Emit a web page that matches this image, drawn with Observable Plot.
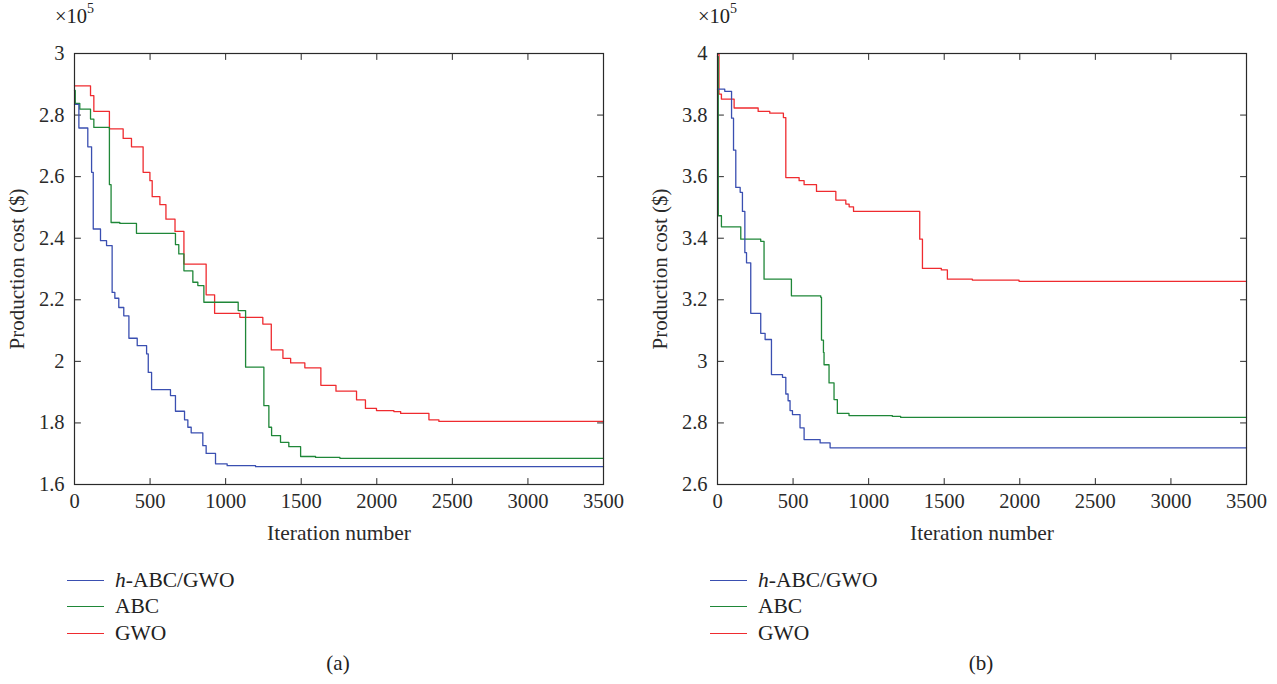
<!DOCTYPE html>
<html>
<head>
<meta charset="utf-8">
<script src="https://cdn.jsdelivr.net/npm/d3@7"></script>
<script src="https://cdn.jsdelivr.net/npm/@observablehq/plot@0.6"></script>
<style>
  body { margin: 0; background: #fff; font-family: "Liberation Serif", "DejaVu Serif", serif; color: #222; }
  #wrap { position: relative; width: 1277px; height: 684px; overflow: hidden; }
  .panel { position: absolute; top: 0; width: 640px; height: 560px; }
  .panel svg { max-width: none !important; }
  .exp { position: absolute; top: 3px; font-size: 20.5px; color: #222; }
  .exp sup { font-size: 14px; position: relative; top: -2px; }
  .legend { position: absolute; top: 567px; font-size: 21.5px; }
  .legend .row { display: flex; align-items: center; height: 26.5px; }
  .legend .sw { width: 37px; height: 0; border-top: 1.4px solid; margin-right: 11px; }
  .cap { position: absolute; top: 651px; font-size: 21px; width: 60px; text-align: center; }
</style>
</head>
<body>
<div id="wrap"></div>
<script>
// ---------- data (cost in units of 1e5 $) ----------
const seriesNames = ["h-ABC/GWO", "ABC", "GWO"];
const seriesColors = ["#3a4fb1", "#1f8738", "#ef2b2f"];
const xTicks = [0, 500, 1000, 1500, 2000, 2500, 3000, 3500];
const yTicksA = [1.6, 1.8, 2, 2.2, 2.4, 2.6, 2.8, 3];
const yTicksB = [2.6, 2.8, 3, 3.2, 3.4, 3.6, 3.8, 4];

// Panel (a)
const a_hybrid_iter = [0, 29, 88, 113, 124, 172, 212, 249, 267, 293, 326, 360, 415, 477, 488, 510, 635, 668, 728, 750, 772, 849, 871, 933, 1010, 1198, 3500];
const a_hybrid_cost = [2.835, 2.758, 2.697, 2.614, 2.430, 2.392, 2.376, 2.224, 2.205, 2.175, 2.148, 2.075, 2.051, 2.024, 1.964, 1.908, 1.889, 1.838, 1.810, 1.786, 1.768, 1.726, 1.701, 1.667, 1.661, 1.658, 1.658];
const a_abc_iter = [0, 5, 35, 106, 128, 231, 242, 300, 410, 668, 690, 724, 783, 816, 856, 1083, 1132, 1253, 1286, 1304, 1363, 1418, 1496, 1595, 1756, 3500];
const a_abc_cost = [2.880, 2.838, 2.819, 2.787, 2.760, 2.574, 2.451, 2.448, 2.416, 2.379, 2.349, 2.294, 2.257, 2.246, 2.192, 2.165, 1.981, 1.856, 1.786, 1.759, 1.737, 1.723, 1.691, 1.688, 1.685, 1.685];
const a_gwo_iter = [0, 106, 128, 231, 322, 377, 454, 499, 514, 565, 605, 665, 724, 871, 927, 1094, 1246, 1302, 1379, 1430, 1524, 1630, 1730, 1866, 1925, 1998, 2113, 2158, 2345, 2411, 3500];
const a_gwo_cost = [2.895, 2.863, 2.812, 2.755, 2.724, 2.697, 2.614, 2.587, 2.535, 2.509, 2.462, 2.422, 2.316, 2.216, 2.156, 2.143, 2.121, 2.037, 2.010, 1.995, 1.979, 1.922, 1.903, 1.875, 1.847, 1.840, 1.837, 1.831, 1.810, 1.805, 1.805];

// Panel (b)
const b_hybrid_iter = [0, 48, 93, 106, 121, 150, 165, 181, 192, 220, 286, 315, 357, 430, 452, 467, 480, 496, 546, 573, 679, 745, 3500];
const b_hybrid_cost = [3.884, 3.877, 3.790, 3.686, 3.565, 3.549, 3.487, 3.353, 3.320, 3.156, 3.091, 3.071, 2.957, 2.948, 2.894, 2.872, 2.840, 2.827, 2.784, 2.746, 2.735, 2.719, 2.719];
const b_abc_iter = [0, 5, 26, 154, 286, 308, 489, 683, 688, 701, 705, 738, 771, 793, 870, 1157, 1212, 3500];
const b_abc_cost = [3.990, 3.473, 3.437, 3.397, 3.390, 3.267, 3.213, 3.208, 3.069, 3.029, 2.989, 2.930, 2.876, 2.831, 2.824, 2.821, 2.818, 2.818];
const b_gwo_iter = [0, 10, 26, 110, 269, 346, 436, 452, 540, 573, 655, 783, 849, 871, 900, 1338, 1356, 1481, 1521, 1686, 1995, 3500];
const b_gwo_cost = [3.998, 3.868, 3.852, 3.823, 3.812, 3.806, 3.792, 3.597, 3.587, 3.574, 3.552, 3.524, 3.511, 3.502, 3.487, 3.397, 3.302, 3.297, 3.267, 3.264, 3.260, 3.260];

// ---------- helpers ----------
function rows(name, iters, costs) {
  return iters.map((it, i) => ({series: name, iter: it, cost: costs[i]}));
}
const tickShape = {draw(context, l) { context.moveTo(0, 0); context.lineTo(0, -l); }};
const ink = "#2a2a2a";

function panel(data, yTicks) {
  const y0 = yTicks[0], y1 = yTicks[yTicks.length - 1];
  const x0 = xTicks[0], x1 = xTicks[xTicks.length - 1];
  const tick = {length: 6, anchor: "start", shape: tickShape, stroke: ink, strokeWidth: 1};
  return Plot.plot({
    width: 640, height: 560,
    marginLeft: 74, marginRight: 37, marginTop: 53, marginBottom: 76,
    style: {fontFamily: "Liberation Serif, serif", fontSize: "20.5px", color: ink, background: "transparent", overflow: "visible"},
    x: {domain: [x0, x1]},
    y: {domain: [y0, y1]},
    color: {domain: seriesNames, range: seriesColors},
    marks: [
      Plot.axisX({ticks: xTicks, tickSize: 0, tickPadding: 9, tickFormat: d => String(d), fontSize: 20.5, label: null}),
      Plot.axisX({ticks: [], tickSize: 0, label: "Iteration number", labelAnchor: "center", labelOffset: 55, labelArrow: "none", fontSize: 21.5}),
      Plot.axisY({ticks: yTicks, tickSize: 0, tickPadding: 10, tickFormat: d => String(Math.round(d * 10) / 10), fontSize: 20.5, label: null}),
      Plot.axisY({ticks: [], tickSize: 0, label: "Production cost ($)", labelAnchor: "center", labelOffset: 65, labelArrow: "none", fontSize: 21}),
      Plot.vector(xTicks.slice(1, -1), {x: d => d, y: y0, rotate: 0, ...tick}),
      Plot.vector(xTicks.slice(1, -1), {x: d => d, y: y1, rotate: 180, ...tick}),
      Plot.vector(yTicks.slice(1, -1), {y: d => d, x: x0, rotate: 90, ...tick}),
      Plot.vector(yTicks.slice(1, -1), {y: d => d, x: x1, rotate: -90, ...tick}),
      Plot.line(data, {x: "iter", y: "cost", z: "series", stroke: "series", curve: "step-after", strokeWidth: 1.3}),
      Plot.frame({stroke: ink, strokeWidth: 1.2})
    ]
  });
}

const dataA = [
  ...rows("GWO", a_gwo_iter, a_gwo_cost),
  ...rows("ABC", a_abc_iter, a_abc_cost),
  ...rows("h-ABC/GWO", a_hybrid_iter, a_hybrid_cost)
];
const dataB = [
  ...rows("GWO", b_gwo_iter, b_gwo_cost),
  ...rows("ABC", b_abc_iter, b_abc_cost),
  ...rows("h-ABC/GWO", b_hybrid_iter, b_hybrid_cost)
];

const wrap = document.getElementById("wrap");
function addPanel(left, data, yTicks, cap) {
  const div = document.createElement("div");
  div.className = "panel";
  div.style.left = left + "px";
  div.appendChild(panel(data, yTicks));
  wrap.appendChild(div);

  const exp = document.createElement("div");
  exp.className = "exp";
  exp.style.left = (left + 55) + "px";
  exp.innerHTML = "×10<sup>5</sup>";
  wrap.appendChild(exp);

  const leg = document.createElement("div");
  leg.className = "legend";
  leg.style.left = (left + 67) + "px";
  seriesNames.forEach((n, i) => {
    const row = document.createElement("div");
    row.className = "row";
    const sw = document.createElement("span");
    sw.className = "sw";
    sw.style.borderTopColor = seriesColors[i];
    const tx = document.createElement("span");
    if (n.startsWith("h-")) tx.innerHTML = "<i>h</i>-ABC/GWO"; else tx.textContent = n;
    row.appendChild(sw); row.appendChild(tx);
    leg.appendChild(row);
  });
  wrap.appendChild(leg);

  const c = document.createElement("div");
  c.className = "cap";
  c.style.left = (left + 308) + "px";
  c.textContent = cap;
  wrap.appendChild(c);
}
addPanel(0, dataA, yTicksA, "(a)");
addPanel(643, dataB, yTicksB, "(b)");
</script>
</body>
</html>
